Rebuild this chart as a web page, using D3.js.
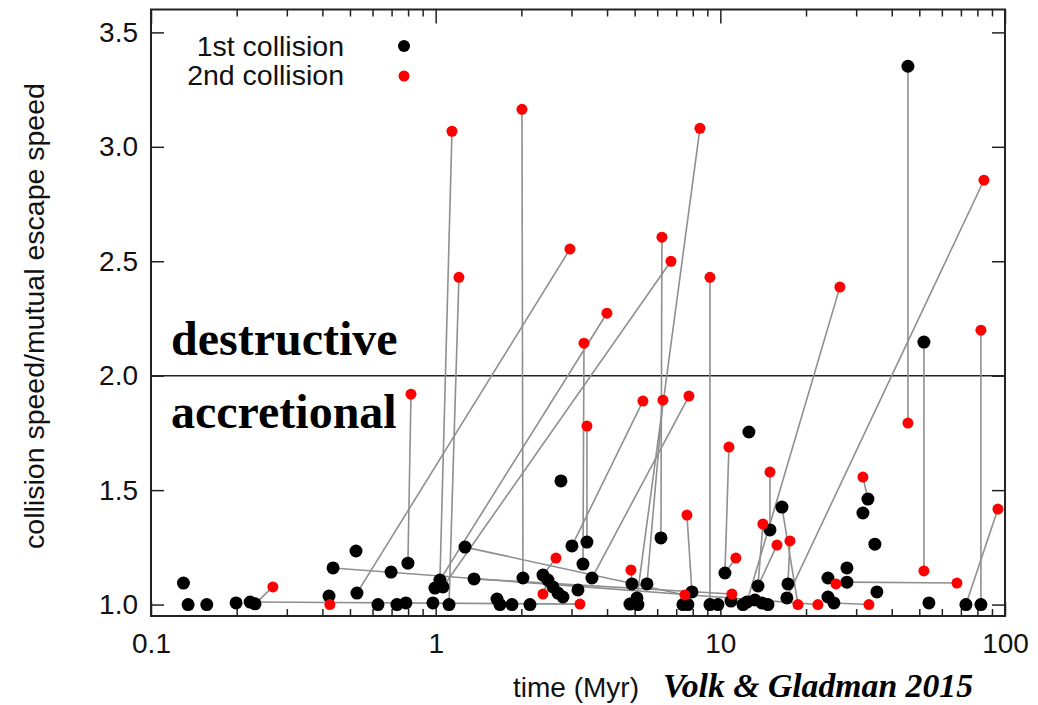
<!DOCTYPE html>
<html>
<head>
<meta charset="utf-8">
<script src="https://cdn.jsdelivr.net/npm/d3@7"></script>
<style>
  body { margin: 0; background: #fff; }
  svg { display: block; }
  .tick text { font-family: "Liberation Sans", Arial, sans-serif; font-size: 28px; fill: #111; }
</style>
</head>
<body>
<svg id="chart"></svg>
<script>
// 1st collision (black dots): time in Myr, collision speed / mutual escape speed
var firstTime = [0.13, 0.135, 0.157, 0.199, 0.223, 0.232, 0.422, 0.436, 0.525, 0.529,
  0.627, 0.697, 0.731, 0.786, 0.799, 0.978, 0.994, 1.035, 1.061, 1.114,
  1.268, 1.364, 1.642, 1.682, 1.854, 2.026, 2.144, 2.382, 2.48, 2.582,
  2.689, 2.8, 2.755, 3.011, 3.161, 3.292, 3.4, 3.54, 4.814, 4.893,
  5.094, 5.135, 5.523, 6.185, 7.389, 7.694, 7.948, 9.195, 9.808, 10.38,
  10.9, 12.01, 12.4, 12.6, 13.23, 13.56, 14.0, 14.7, 14.94, 16.46,
  17.28, 17.13, 23.88, 23.88, 25.06, 27.84, 27.84, 33.0, 31.69, 34.91,
  35.48, 45.6, 51.9, 54.04, 72.9, 82.3];
var firstSpeed = [1.094, 1.0, 1.0, 1.007, 1.011, 1.003, 1.037, 1.16, 1.234, 1.05,
  1.0, 1.142, 1.0, 1.007, 1.181, 1.007, 1.072, 1.107, 1.077, 1.0,
  1.251, 1.112, 1.024, 1.0, 1.0, 1.116, 1.0, 1.129, 1.107, 1.077,
  1.05, 1.033, 1.54, 1.256, 1.064, 1.177, 1.273, 1.116, 1.002, 1.09,
  1.029, 1.0, 1.09, 1.291, 1.0, 1.0, 1.055, 1.0, 1.0, 1.138,
  1.015, 1.0, 1.011, 1.754, 1.02, 1.081, 1.007, 1.0, 1.326, 1.426,
  1.09, 1.029, 1.116, 1.033, 1.007, 1.16, 1.098, 1.461, 1.4, 1.264,
  1.055, 3.352, 2.147, 1.007, 1.0, 1.0];

// 2nd collision (red dots) and the index of the 1st collision it follows
var secondTime = [0.268, 3.213, 0.425, 0.819, 1.141, 1.207, 2.01, 2.963, 3.996, 6.707,
  7.51, 10.98, 18.74, 6.235, 8.479, 3.319, 3.4, 5.347, 7.757, 6.286,
  7.633, 2.646, 2.382, 4.853, 9.195, 10.72, 11.34, 14.94, 14.11, 15.81,
  17.56, 22.02, 25.47, 67.78, 33.27, 31.69, 45.6, 51.9, 82.3, 94.43,
  26.3, 84.34];
var secondSpeed = [1.077, 1.002, 1.0, 1.919, 3.068, 2.43, 3.164, 2.553, 2.273, 2.5,
  1.042, 1.046, 1.0, 2.605, 3.081, 2.142, 1.78, 1.889, 1.911, 1.893,
  1.391, 1.203, 1.046, 1.151, 2.43, 1.688, 1.203, 1.579, 1.352, 1.26,
  1.278, 1.0, 1.09, 1.094, 1.0, 1.557, 1.793, 1.147, 2.199, 1.417,
  2.387, 2.854];
var secondParent = [5, 4, 6, 14, 17, 19, 25, 9, 16, 18,
  20, 21, 59, 43, 40, 35, 36, 33, 37, 42,
  46, 27, 28, 39, 47, 49, 49, 58, 55, 55,
  60, 7, 62, 66, 64, 67, 71, 72, 75, 74,
  52, 61];

var xTicks = [0.1, 1, 10, 100];
var yTicks = [1.0, 1.5, 2.0, 2.5, 3.0, 3.5];
var legendLabels = ['1st collision', '2nd collision'];

var svg_width = 1038, svg_height = 705;
var plot_left = 151, plot_right = 1005, plot_top = 9.5, plot_bottom = 616;

var svg = d3.select('#chart').attr('width', svg_width).attr('height', svg_height);

var x = d3.scaleLog().domain([0.1, 100]).range([plot_left, plot_right]);
var y = d3.scaleLinear().domain([0.95, 3.6]).range([plot_bottom, plot_top]);

var minorTicks = x.ticks().filter(function(d) { return xTicks.indexOf(d) < 0; });

function styleAxis(g) {
  g.select('.domain').remove();
  g.selectAll('.tick line').attr('stroke', '#222').attr('stroke-width', 1.5);
}

// bottom axis: labels + major ticks, minor ticks
svg.append('g').attr('transform', 'translate(0,' + plot_bottom + ')')
  .call(d3.axisBottom(x).tickValues(xTicks).tickSize(-14).tickPadding(17)
    .tickFormat(function(d) { return d < 1 ? '0.1' : String(d); }))
  .call(styleAxis);
svg.append('g').attr('transform', 'translate(0,' + plot_bottom + ')')
  .call(d3.axisBottom(x).tickValues(minorTicks).tickSize(-7).tickFormat(''))
  .call(styleAxis);
// mirrored top
svg.append('g').attr('transform', 'translate(0,' + plot_top + ')')
  .call(d3.axisTop(x).tickValues(xTicks).tickSize(-14).tickFormat(''))
  .call(styleAxis);
svg.append('g').attr('transform', 'translate(0,' + plot_top + ')')
  .call(d3.axisTop(x).tickValues(minorTicks).tickSize(-7).tickFormat(''))
  .call(styleAxis);
// left and right
svg.append('g').attr('transform', 'translate(' + plot_left + ',0)')
  .call(d3.axisLeft(y).tickValues(yTicks).tickSize(-13).tickPadding(13).tickFormat(d3.format('.1f')))
  .call(styleAxis);
svg.append('g').attr('transform', 'translate(' + plot_right + ',0)')
  .call(d3.axisRight(y).tickValues(yTicks).tickSize(-13).tickFormat(''))
  .call(styleAxis);

// frame
svg.append('rect')
  .attr('x', plot_left).attr('y', plot_top)
  .attr('width', plot_right - plot_left).attr('height', plot_bottom - plot_top)
  .attr('fill', 'none').attr('stroke', '#222').attr('stroke-width', 2);

// destructive / accretional divide
svg.append('line')
  .attr('x1', plot_left).attr('x2', plot_right)
  .attr('y1', y(2.0)).attr('y2', y(2.0))
  .attr('stroke', '#222').attr('stroke-width', 1.5);

svg.append('text').attr('x', 171).attr('y', 355)
  .attr('font-family', '"Liberation Serif", "Times New Roman", serif')
  .attr('font-weight', 'bold').attr('font-size', 48).text('destructive');
svg.append('text').attr('x', 171).attr('y', 428)
  .attr('font-family', '"Liberation Serif", "Times New Roman", serif')
  .attr('font-weight', 'bold').attr('font-size', 48).text('accretional');

// connecting lines
var group = svg.append('g');
group.selectAll('.link')
  .data(secondTime)
  .enter()
  .append('line')
  .attr('class', 'link')
  .attr('x1', function(d, i) { return x(firstTime[secondParent[i]]); })
  .attr('y1', function(d, i) { return y(firstSpeed[secondParent[i]]); })
  .attr('x2', function(d) { return x(d); })
  .attr('y2', function(d, i) { return y(secondSpeed[i]); })
  .attr('stroke', '#8f8f8f')
  .attr('stroke-width', 1.6);

group.selectAll('.first')
  .data(firstTime)
  .enter()
  .append('circle')
  .attr('class', 'first')
  .attr('cx', function(d) { return x(d); })
  .attr('cy', function(d, i) { return y(firstSpeed[i]); })
  .attr('r', 6.5)
  .attr('fill', '#000');

group.selectAll('.second')
  .data(secondTime)
  .enter()
  .append('circle')
  .attr('class', 'second')
  .attr('cx', function(d) { return x(d); })
  .attr('cy', function(d, i) { return y(secondSpeed[i]); })
  .attr('r', 5.5)
  .attr('fill', '#ff0000');

// legend
var legend = svg.append('g');
legend.selectAll('text')
  .data(legendLabels)
  .enter()
  .append('text')
  .attr('x', 344)
  .attr('y', function(d, i) { return 56 + i * 29; })
  .attr('text-anchor', 'end')
  .attr('font-family', '"Liberation Sans", Arial, sans-serif')
  .attr('font-size', 28.5)
  .attr('fill', '#111')
  .text(function(d) { return d; });
legend.selectAll('circle')
  .data(legendLabels)
  .enter()
  .append('circle')
  .attr('cx', 404)
  .attr('cy', function(d, i) { return 46 + i * 30; })
  .attr('r', function(d, i) { return i == 0 ? 6 : 5.5; })
  .attr('fill', function(d, i) { return i == 0 ? '#000' : '#ff0000'; });

// axis titles
svg.append('text')
  .attr('transform', 'translate(44,316) rotate(-90)')
  .attr('text-anchor', 'middle')
  .attr('font-family', '"Liberation Sans", Arial, sans-serif')
  .attr('font-size', 28.5)
  .attr('fill', '#111')
  .text('collision speed/mutual escape speed');
svg.append('text')
  .attr('x', 576).attr('y', 697)
  .attr('text-anchor', 'middle')
  .attr('font-family', '"Liberation Sans", Arial, sans-serif')
  .attr('font-size', 28)
  .attr('fill', '#111')
  .text('time (Myr)');
svg.append('text')
  .attr('x', 663).attr('y', 697)
  .attr('font-family', '"Liberation Serif", "Times New Roman", serif')
  .attr('font-weight', 'bold').attr('font-style', 'italic')
  .attr('font-size', 34)
  .attr('textLength', 310).attr('lengthAdjust', 'spacingAndGlyphs')
  .text('Volk & Gladman 2015');
</script>
</body>
</html>
